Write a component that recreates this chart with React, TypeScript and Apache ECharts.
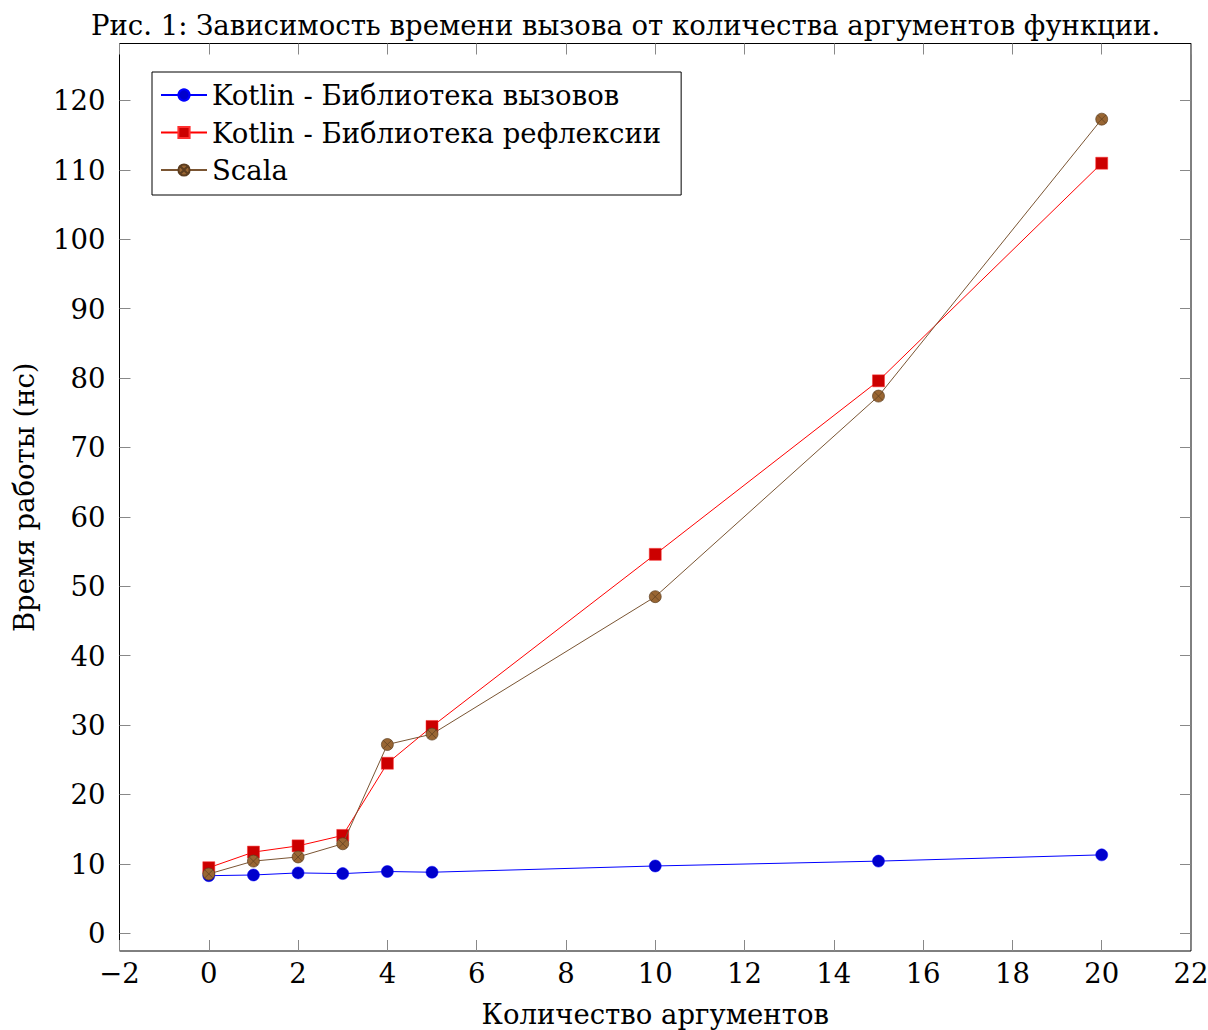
import React, { useEffect, useRef } from "react";
import * as echarts from "echarts";

const xValues = [0, 1, 2, 3, 4, 5, 10, 15, 20];
const kotlinCall = [8.3, 8.4, 8.7, 8.6, 8.9, 8.8, 9.7, 10.4, 11.3];
const kotlinReflect = [9.45, 11.7, 12.6, 14.1, 24.5, 29.8, 54.6, 79.6, 110.95];
const scalaValues = [8.55, 10.4, 11.0, 12.9, 27.2, 28.7, 48.5, 77.4, 117.3];
const yTicks = [0, 10, 20, 30, 40, 50, 60, 70, 80, 90, 100, 110, 120];
const seriesNames = [
  "Kotlin - Библиотека вызовов",
  "Kotlin - Библиотека рефлексии",
  "Scala",
];
const titleText = "Рис. 1: Зависимость времени вызова от количества аргументов функции.";
const xName = "Количество аргументов";
const yName = "Время работы (нс)";

const FONT = "DejaVu Serif";
const FS = 27.5;
const otimes =
  "path://M0,-10A10,10,0,1,1,0,10A10,10,0,1,1,0,-10ZM-7.07,-7.07L7.07,7.07M-7.07,7.07L7.07,-7.07";

export default function App() {
  const ref = useRef<HTMLDivElement>(null);
  useEffect(() => {
    const chart = echarts.init(ref.current!, null, { renderer: "svg" });
    const pair = (ys: number[]) => xValues.map((x, i) => [x, ys[i]]);
    const tickStyle = { show: true, inside: true, length: 11, lineStyle: { color: "#888", width: 1 } };
    const noLine = { show: false, onZero: false };
    chart.setOption({
      animation: false,
      backgroundColor: "#fff",
      textStyle: { fontFamily: FONT },
      title: {
        text: titleText,
        left: 86,
        top: 6,
        textStyle: { fontFamily: FONT, fontSize: FS, fontWeight: "normal", color: "#000" },
      },
      grid: {
        left: 119.5,
        right: 17,
        top: 43.5,
        bottom: 79,
        outerBoundsMode: "none",
        containLabel: false,
        show: true,
        borderColor: "#000",
        borderWidth: 1,
        backgroundColor: "transparent",
      },
      legend: {
        orient: "vertical",
        left: 152,
        top: 72,
        backgroundColor: "#fff",
        borderColor: "#000",
        borderWidth: 1,
        padding: [9, 20, 11, 8],
        itemWidth: 46,
        itemHeight: 14,
        itemGap: 9.5,
        textStyle: { fontFamily: FONT, fontSize: FS, lineHeight: 28, color: "#000" },
        data: seriesNames,
      },
      xAxis: [
        {
          type: "value",
          min: -2,
          max: 22,
          interval: 2,
          name: xName,
          nameLocation: "middle",
          nameGap: 49,
          nameTextStyle: { fontFamily: FONT, fontSize: FS, color: "#000" },
          axisLine: noLine,
          axisTick: tickStyle,
          splitLine: { show: false },
          axisLabel: {
            fontFamily: FONT,
            fontSize: FS,
            color: "#000",
            margin: 8,
            formatter: (v: number) => (v < 0 ? "−" + Math.abs(v) : String(v)),
          },
        },
        {
          type: "value",
          position: "top",
          min: -2,
          max: 22,
          interval: 2,
          axisLine: noLine,
          axisTick: tickStyle,
          splitLine: { show: false },
          axisLabel: { show: false },
        },
      ],
      yAxis: [
        {
          type: "value",
          min: -2.55,
          max: 128.2,
          name: yName,
          nameLocation: "middle",
          nameGap: 82,
          nameTextStyle: { fontFamily: FONT, fontSize: FS, color: "#000" },
          axisLine: noLine,
          axisTick: { ...tickStyle, customValues: yTicks },
          splitLine: { show: false },
          axisLabel: {
            fontFamily: FONT,
            fontSize: FS,
            color: "#000",
            margin: 14,
            customValues: yTicks,
          },
        },
        {
          type: "value",
          position: "right",
          min: -2.55,
          max: 128.2,
          axisLine: noLine,
          axisTick: { ...tickStyle, customValues: yTicks },
          splitLine: { show: false },
          axisLabel: { show: false, customValues: yTicks },
        },
      ],
      series: [
        {
          name: seriesNames[0],
          type: "line",
          data: pair(kotlinCall),
          symbol: "circle",
          symbolSize: 12,
          lineStyle: { color: "#0000ff", width: 1 },
          itemStyle: { color: "#0000cc", borderColor: "#0000ff", borderWidth: 0.5 },
          z: 2,
        },
        {
          name: seriesNames[1],
          type: "line",
          data: pair(kotlinReflect),
          symbol: "rect",
          symbolSize: 12,
          lineStyle: { color: "#ff0000", width: 1 },
          itemStyle: { color: "#cc0000", borderColor: "#ff3030", borderWidth: 0.5 },
          z: 3,
        },
        {
          name: seriesNames[2],
          type: "line",
          data: pair(scalaValues),
          symbol: otimes,
          symbolSize: 12,
          lineStyle: { color: "#7a5533", width: 1 },
          itemStyle: { color: "#996633", borderColor: "#5c3d1f", borderWidth: 0.7 },
          z: 4,
        },
      ],
    });
    return () => chart.dispose();
  }, []);
  return (
    <div
      ref={ref}
      style={{ position: "fixed", left: 0, top: 0, width: 1208, height: 1030 }}
    />
  );
}
